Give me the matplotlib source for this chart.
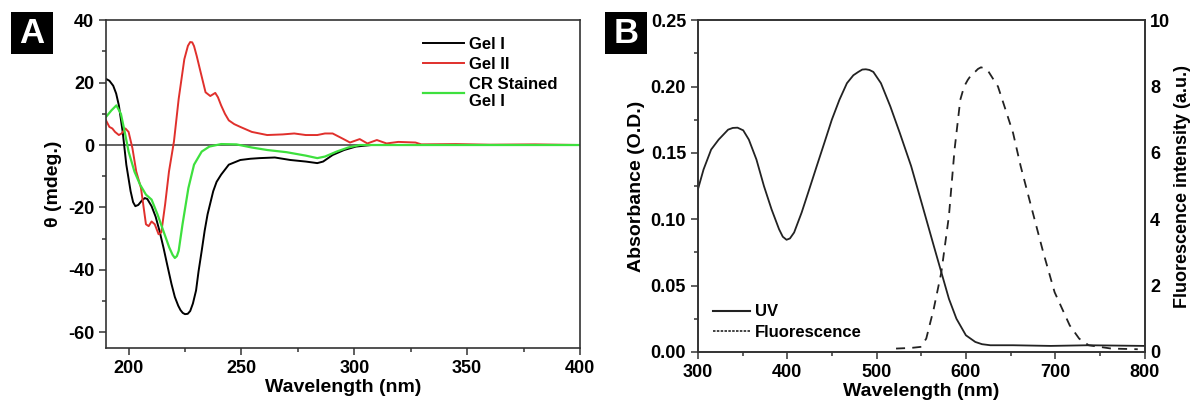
import numpy as np
import matplotlib
matplotlib.use('Agg')
import matplotlib.pyplot as plt
from matplotlib.lines import Line2D
from matplotlib.patches import Rectangle
from matplotlib.ticker import MultipleLocator

plt.rcParams['font.family'] = ['Liberation Sans', 'DejaVu Sans']
plt.rcParams['font.weight'] = 'bold'
plt.rcParams['axes.unicode_minus'] = False

# ---- panel A: CD spectra (wavelength nm, theta mdeg) ----
gel1_x = [190, 191.5, 193.2, 194.5, 195.7, 197.4, 199, 200.9, 202, 203, 204.3, 206, 207.2,
          208.3, 210.2, 212, 213.7, 215.5, 217, 219, 220.5, 222, 223, 224, 225, 226.2, 227.3,
          228.5, 229.9, 231, 232.4, 233.7, 235, 237.5, 239, 241, 244.4, 249.5, 254, 258,
          264.8, 271.7, 278.5, 283.6, 286.2, 290.4, 295.5, 300.7, 307.5, 350, 400]
gel1_y = [21.2, 20.6, 19, 16.5, 12.7, 4.2, -6.3, -14.8, -18.3, -19.6, -19.2, -17.7, -17,
          -17.3, -19.6, -23, -27.5, -33, -38, -44.5, -48.7, -51.5, -52.9, -53.8, -54.2, -54.1, -53.2,
          -50.8, -46.6, -40.5, -33.9, -27.5, -22.2, -14.8, -11.8, -9.5, -6.3, -4.8, -4.4, -4.2,
          -4.0, -4.8, -5.3, -5.8, -5.3, -3.2, -1.6, -0.5, 0, 0, 0]

gel2_x = [190, 191.5, 192.8, 194, 195.7, 196.9, 198.6, 200, 201.7, 203.4, 205.5, 207.7,
          208.9, 210.2, 211.6, 213.3, 214.5, 216.2, 217.9, 220.1, 222.2, 224.7, 226.3, 227.3,
          228.2, 229, 230.2, 231.6, 234.1, 236.2, 238.4, 239.6, 241, 242.7, 244.4, 246.8,
          249.5, 254.6, 261.4, 268.3, 273.4, 278.5, 283.6, 287, 290.4, 294.7, 298.1, 302.4,
          305.8, 310, 314.3, 319.5, 327.1, 329.7, 345, 360, 380, 400]
gel2_y = [7.9, 5.8, 5.3, 4.2, 3.2, 3.7, 5.3, 4.2, -1, -8.5, -13.8, -25.4,
          -26, -24.5, -25.4, -28.6, -28, -19, -8.5, 1.1, 14.8, 27.5, 31.8, 33,
          32.9, 31.7, 28.5, 24.3, 16.9, 15.7, 16.7, 15.3, 12.7, 10, 7.9, 6.7,
          5.8, 4.2, 3.2, 3.4, 3.7, 3.2, 3.2, 3.7, 3.7, 2.1, 0.8, 1.9,
          0.5, 1.6, 0.5, 1.0, 0.8, 0.2, 0.3, 0.1, 0.2, 0]

cr_x = [190, 192.4, 194.6, 196.6, 198.3, 200, 202.6, 205.1, 207.7, 210.2, 212.8, 215.4,
        218, 219.5, 220.5, 221.4, 222.2, 223.9, 226.5, 229, 232.4, 235.8, 241, 247.8,
        254.6, 261.4, 270, 278.5, 283.6, 287, 292.2, 297.3, 302.4, 350, 400]
cr_y = [9, 11.1, 12.7, 10, 4.2, -2.1, -8.5, -12.7, -15.9, -17.5, -22.2, -27.5,
        -32.8, -35.2, -36.2, -35.6, -33.9, -25.4, -13.8, -6.3, -2.1, -0.5, 0.3, 0.2,
        -0.8, -1.6, -2.3, -3.4, -4.2, -3.7, -2.1, -0.8, 0, 0, 0]

# ---- panel B: UV absorbance and fluorescence ----
uv_x = [300, 306.3, 314.8, 323.2, 333.8, 339, 344.3, 350.7, 357, 365.5, 373.9, 382.4, 390.8,
        395, 399.2, 403, 407.7, 416.1, 424.6, 433, 441.5, 449.9, 458.4, 466.8, 474, 479.5,
        484, 488, 492, 496.4, 504.9, 515.4, 526, 538.7, 551.4, 564, 572.5, 581, 589.4, 600,
        610.5, 618, 627.4, 652.8, 695, 737, 800]
uv_y = [0.1225, 0.1375, 0.1525, 0.16, 0.1675, 0.1688, 0.169, 0.167, 0.16, 0.145, 0.125,
        0.1075, 0.0925, 0.0868, 0.0845, 0.0855, 0.09, 0.105, 0.1225, 0.14, 0.1575, 0.175,
        0.19, 0.2025, 0.2085, 0.211, 0.2128, 0.213, 0.2125, 0.211, 0.2025, 0.185, 0.165,
        0.14, 0.11, 0.08, 0.06, 0.04, 0.025, 0.0125, 0.0075, 0.0058, 0.005, 0.005, 0.0045,
        0.005, 0.0045]

fl_x = [521.8, 538.7, 549.3, 555.6, 564, 572.5, 581, 587.3, 593.7, 598, 602.1, 606, 610.5,
        613.5, 616.9, 620.5, 625.3, 630, 635.9, 644.4, 652.8, 661.3, 673.9, 686.6, 699.3,
        716.2, 726.8, 737.4, 750, 762.8, 792.4]
fl_y = [0.1, 0.12, 0.15, 0.4, 1.3, 2.4, 4.1, 6.1, 7.6, 8.0, 8.2, 8.35, 8.45,
        8.53, 8.58, 8.55, 8.45, 8.25, 8.0, 7.3, 6.6, 5.6, 4.3, 3.0, 1.8,
        0.8, 0.4, 0.2, 0.15, 0.1, 0.08]

fig = plt.figure(figsize=(11.91, 4.04), dpi=100)
axA = fig.add_axes([0.089, 0.139, 0.398, 0.811])
axB = fig.add_axes([0.586, 0.129, 0.375, 0.821])

spine_c = '#333333'
for ax in (axA, axB):
    for s in ax.spines.values():
        s.set_color(spine_c)
        s.set_linewidth(1.2)
    ax.tick_params(which='both', direction='out', color=spine_c, width=1.1,
                   labelsize=13, top=False, right=False)
    ax.tick_params(which='major', length=5)
    ax.tick_params(which='minor', length=3)

# panel A
axA.axhline(0, color='#555555', lw=1.3)
axA.plot(gel1_x, gel1_y, color='black', lw=1.4, label='Gel I')
axA.plot(gel2_x, gel2_y, color='#e0302c', lw=1.4, label='Gel II')
axA.plot(cr_x, cr_y, color='#3ee03e', lw=1.6, label='CR Stained\nGel I')
axA.set_xlim(190, 400)
axA.set_ylim(-65, 40)
axA.xaxis.set_major_locator(MultipleLocator(50))
axA.xaxis.set_minor_locator(MultipleLocator(25))
axA.yaxis.set_major_locator(MultipleLocator(20))
axA.yaxis.set_minor_locator(MultipleLocator(10))
axA.set_xlabel('Wavelength (nm)', fontsize=14, fontweight='bold', labelpad=2)
axA.set_ylabel('θ (mdeg.)', fontsize=14, fontweight='bold', labelpad=4)
axA.legend(loc='upper right', frameon=False, fontsize=12, handlelength=2.5,
           handletextpad=0.3, labelspacing=0.3, bbox_to_anchor=(0.985, 0.995))

# panel B
axB.plot(uv_x, uv_y, color='#222222', lw=1.3)
axB.set_xlim(300, 800)
axB.set_ylim(0, 0.25)
axB.xaxis.set_major_locator(MultipleLocator(100))
axB.xaxis.set_minor_locator(MultipleLocator(50))
axB.yaxis.set_major_locator(MultipleLocator(0.05))
axB.yaxis.set_minor_locator(MultipleLocator(0.025))
axB.set_xlabel('Wavelength (nm)', fontsize=14, fontweight='bold', labelpad=2)
axB.set_ylabel('Absorbance (O.D.)', fontsize=14, fontweight='bold', labelpad=4)

axB2 = axB.twinx()
axB2.plot(fl_x, fl_y, color='#222222', lw=1.3, ls=(0, (5, 4)))
axB2.set_ylim(0, 10)
axB2.yaxis.set_major_locator(MultipleLocator(2))
axB2.tick_params(labelsize=13, length=0, pad=4)
axB2.set_ylabel('Fluorescence intensity (a.u.)', fontsize=13, fontweight='bold', labelpad=3)
for s in axB2.spines.values():
    s.set_color(spine_c)
    s.set_linewidth(1.2)

handles = [Line2D([], [], color='#222222', lw=1.5),
           Line2D([], [], color='#222222', lw=1.2, ls=(0, (1.5, 0.8)))]
axB.legend(handles, ['UV', 'Fluorescence'], loc='lower left', frameon=False,
           fontsize=12, handlelength=2.2, handletextpad=0.3, labelspacing=0.35,
           bbox_to_anchor=(0.0, -0.01))

# panel letters in black boxes
for x0, txt in ((0.0092, 'A'), (0.508, 'B')):
    fig.patches.append(Rectangle((x0, 0.866), 0.0353, 0.104, transform=fig.transFigure,
                                 fc='black', ec='none'))
    fig.text(x0 + 0.0177, 0.917, txt, color='white', fontsize=25, fontweight='bold',
             ha='center', va='center')

fig.savefig('out.png', dpi=100)
